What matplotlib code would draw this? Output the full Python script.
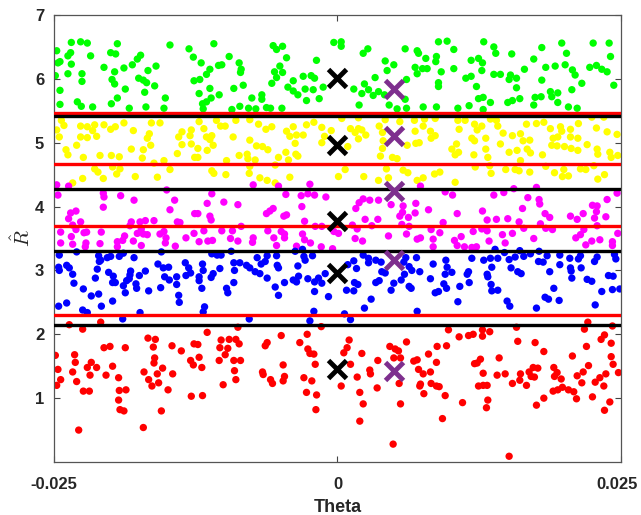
import matplotlib

matplotlib.use("Agg")
import matplotlib.pyplot as plt
import matplotlib.transforms as mtransforms
import numpy as np

# (theta in units of 1e-3, R), one list per cluster
green_pts = [
    (-23.47, 6.57), (-22.65, 6.58), (-22.06, 6.56), (-24.76, 6.44), (-23.53, 6.41),
    (-23.77, 6.36), (-24.47, 6.27), (-24.65, 6.25), (-23.47, 6.23), (-21.77, 6.36),
    (-20.00, 6.41), (-19.56, 6.39), (-19.41, 6.55), (-17.36, 6.37), (-17.65, 6.31),
    (-18.09, 6.22), (-18.83, 6.17), (-20.59, 6.18), (-19.65, 6.11), (-16.00, 6.20),
    (-16.71, 6.13), (-14.77, 6.53), (-13.09, 6.47), (-12.71, 6.34), (-22.53, 6.08),
    (-23.77, 6.08), (-22.53, 5.96), (-24.88, 6.05), (-19.88, 5.99), (-19.65, 5.92),
    (-17.53, 6.01), (-17.12, 5.98), (-16.83, 5.94), (-18.71, 5.84), (-17.00, 5.79),
    (-16.12, 5.89), (-24.47, 5.82), (-19.41, 5.70), (-15.18, 5.70), (-22.94, 5.64),
    (-22.59, 5.57), (-24.47, 5.60), (-19.94, 5.61), (-21.59, 5.56), (-18.36, 5.54),
    (-16.89, 5.56), (-15.30, 5.54), (-12.65, 5.97),
    (-10.90, 6.55), (-5.67, 6.52), (-4.84, 6.51), (-5.37, 6.46), (-9.55, 6.35),
    (-8.67, 6.25), (-10.20, 6.22), (-10.49, 6.21), (-12.02, 6.25), (-11.25, 6.15),
    (-8.49, 6.15), (-8.55, 6.10), (-4.49, 6.33), (-5.08, 6.20), (-5.55, 6.11),
    (-4.84, 6.10), (-5.37, 6.02), (-5.79, 5.93), (-1.85, 6.29), (-3.02, 6.04),
    (-2.32, 6.05), (-2.02, 6.01), (-3.90, 5.97), (-11.55, 6.07), (-12.14, 5.99),
    (-11.25, 5.85), (-9.14, 5.85), (-8.31, 5.90), (-4.37, 5.87), (-3.90, 5.81),
    (-3.49, 5.75), (-2.85, 5.84), (-2.14, 5.83), (-1.61, 5.69), (-2.73, 5.66),
    (-12.20, 5.77), (-10.43, 5.75), (-11.14, 5.70), (-11.55, 5.64), (-11.90, 5.61),
    (-7.55, 5.70), (-6.67, 5.75), (-6.67, 5.68), (-8.61, 5.57), (-7.84, 5.54),
    (-9.31, 5.52), (-7.20, 5.53), (-6.26, 5.55), (-5.90, 5.54), (-4.90, 5.54),
    (-11.84, 5.53), (-1.26, 5.87), (-0.32, 6.57),
    (0.33, 6.58), (0.33, 6.51), (2.68, 6.47), (2.27, 6.40), (8.91, 6.58),
    (9.67, 6.59), (10.26, 6.46), (7.03, 6.44), (7.15, 6.40), (7.79, 6.32),
    (8.73, 6.35), (8.67, 6.27), (5.97, 6.47), (11.79, 6.29), (12.44, 6.32),
    (4.97, 6.22), (4.38, 6.13), (6.85, 6.18), (7.50, 6.16), (7.91, 6.16),
    (7.03, 6.08), (9.15, 6.11), (10.26, 6.16), (3.32, 6.02), (11.32, 6.01),
    (11.79, 6.04), (6.09, 5.99), (8.91, 5.94), (8.91, 5.88), (12.26, 5.88),
    (1.44, 5.84), (2.38, 5.92), (2.74, 5.83), (3.15, 5.74), (3.62, 5.80),
    (4.15, 5.75), (2.15, 5.77), (5.97, 5.68), (4.56, 5.59), (5.26, 5.53),
    (6.09, 5.54), (1.91, 5.59), (7.56, 5.56), (8.73, 5.56), (10.62, 5.54),
    (11.61, 5.58), (12.44, 5.69), (4.21, 6.28),
    (12.90, 6.58), (13.79, 6.50), (13.96, 6.40), (15.37, 6.39), (18.02, 6.49),
    (17.31, 6.31), (19.78, 6.56), (20.20, 6.40), (22.55, 6.56), (23.96, 6.56),
    (24.08, 6.35), (12.79, 6.25), (12.73, 6.13), (13.79, 6.07), (14.37, 6.07),
    (15.26, 6.06), (15.14, 5.99), (15.79, 6.01), (16.49, 6.15), (18.37, 6.18),
    (19.20, 6.20), (20.08, 6.22), (20.72, 6.14), (20.96, 6.06), (22.25, 6.18),
    (22.84, 6.21), (23.31, 6.15), (23.78, 6.11), (18.02, 5.98), (21.55, 5.93),
    (24.37, 5.90), (15.79, 5.86), (20.67, 5.83), (12.85, 5.71), (13.49, 5.63),
    (15.02, 5.63), (15.43, 5.66), (16.08, 5.69), (17.43, 5.71), (17.96, 5.72),
    (18.78, 5.80), (19.43, 5.78), (18.90, 5.72), (19.43, 5.63), (17.31, 5.59),
    (20.37, 5.56), (21.14, 5.54), (12.85, 5.52),
]

yellow_pts = [
    (-24.35, 5.35), (-24.12, 5.27), (-24.76, 5.20), (-24.53, 5.09), (-22.65, 5.26),
    (-22.06, 5.25), (-21.41, 5.28), (-20.59, 5.28), (-19.59, 5.25), (-20.00, 5.21),
    (-18.83, 5.31), (-18.00, 5.19), (-16.41, 5.31), (-15.65, 5.31), (-13.71, 5.17),
    (-12.89, 5.20), (-13.00, 5.11), (-14.00, 5.09), (-13.71, 4.97), (-12.89, 4.98),
    (-16.59, 5.14), (-16.77, 5.07), (-16.47, 4.96), (-17.12, 4.89), (-18.18, 4.90),
    (-22.65, 5.09), (-22.06, 5.08), (-21.24, 5.10), (-21.59, 5.19), (-23.00, 4.96),
    (-23.94, 4.89), (-23.77, 4.81), (-22.41, 4.77), (-20.94, 4.80), (-19.94, 4.80),
    (-19.24, 4.78), (-17.21, 4.76), (-15.30, 4.72), (-16.18, 4.68), (-14.12, 4.83),
    (-12.59, 4.77), (-21.41, 4.59), (-21.12, 4.54), (-20.65, 4.44), (-19.83, 4.62),
    (-19.18, 4.59), (-19.47, 4.51), (-17.83, 4.47), (-15.88, 4.46), (-14.77, 4.58),
    (-22.47, 4.44), (-23.35, 4.37),
    (-12.20, 5.33), (-10.67, 5.35), (-10.31, 5.26), (-9.90, 5.26), (-8.96, 5.35),
    (-7.73, 5.36), (-6.96, 5.29), (-6.31, 5.21), (-5.79, 5.25), (-4.49, 5.18),
    (-3.90, 5.25), (-4.20, 5.10), (-3.61, 5.12), (-3.02, 5.12), (-2.73, 5.28),
    (-2.08, 5.32), (-1.38, 5.24), (-0.55, 5.19), (-1.14, 5.10), (-1.38, 5.00),
    (-3.73, 4.99), (-3.67, 4.82), (-11.78, 5.22), (-11.55, 5.09), (-11.08, 5.11),
    (-10.96, 4.96), (-11.25, 5.05), (-9.20, 5.09), (-7.73, 5.04), (-7.14, 4.95),
    (-6.61, 4.94), (-6.14, 4.89), (-12.31, 4.91), (-11.49, 4.88), (-12.31, 4.77),
    (-8.67, 4.80), (-7.96, 4.82), (-7.90, 4.75), (-7.26, 4.73), (-5.20, 4.77),
    (-4.55, 4.85), (-4.32, 4.73), (-3.49, 4.79), (-9.78, 4.72), (-7.73, 4.63),
    (-5.49, 4.65), (-10.90, 4.52), (-9.84, 4.50), (-11.08, 4.56), (-7.78, 4.52),
    (-6.84, 4.45), (-6.20, 4.41), (-5.49, 4.37), (-4.20, 4.46),
    (0.38, 5.38), (1.85, 5.39), (4.21, 5.36), (5.50, 5.33), (6.79, 5.35),
    (7.68, 5.37), (8.62, 5.38), (10.62, 5.35), (11.26, 5.35), (12.09, 5.29),
    (12.32, 5.20), (1.15, 5.22), (1.85, 5.22), (1.56, 5.16), (2.15, 5.20),
    (2.50, 5.12), (1.85, 5.06), (3.68, 5.26), (3.97, 5.16), (4.03, 5.03),
    (7.56, 5.26), (6.85, 5.18), (8.20, 5.18), (8.62, 5.11), (8.26, 5.07),
    (10.73, 5.21), (11.85, 5.07), (12.09, 5.03), (6.15, 4.96), (6.91, 4.99),
    (7.21, 5.00), (0.91, 4.94), (3.97, 4.91), (3.79, 4.79), (4.85, 4.77),
    (5.26, 4.75), (10.50, 4.98), (10.09, 4.90), (10.38, 4.81), (10.68, 4.85),
    (12.03, 4.81), (0.68, 4.58), (2.32, 4.47), (4.32, 4.59), (5.79, 4.57),
    (6.21, 4.53), (3.62, 4.41), (4.50, 4.45), (7.03, 4.41), (7.56, 4.45),
    (8.56, 4.51), (9.03, 4.54), (10.38, 4.38), (12.15, 4.62), (0.09, 4.47),
    (13.49, 5.37), (14.02, 5.35), (12.73, 5.26), (14.14, 5.26), (14.61, 5.15),
    (15.43, 5.11), (16.67, 5.29), (17.55, 5.30), (18.20, 5.32), (18.78, 5.22),
    (19.67, 5.25), (19.78, 5.18), (20.55, 5.21), (21.25, 5.30), (22.43, 5.40),
    (23.49, 5.40), (22.84, 5.23), (23.78, 5.17), (24.66, 5.13), (13.08, 5.07),
    (14.37, 4.98), (16.14, 5.14), (16.37, 5.03), (16.96, 5.04), (19.02, 5.07),
    (19.43, 5.09), (18.90, 4.96), (19.37, 4.95), (20.02, 4.94), (20.55, 5.09),
    (21.20, 5.07), (22.02, 4.97), (21.20, 4.88), (20.61, 4.91), (16.73, 4.90),
    (17.02, 4.84), (15.84, 4.88), (15.14, 4.85), (13.08, 4.90), (13.26, 4.77),
    (18.08, 4.81), (22.90, 4.90), (22.96, 4.82), (24.02, 4.85), (24.14, 4.77),
    (24.72, 4.80), (16.14, 4.72), (13.43, 4.64), (13.55, 4.52), (14.84, 4.58),
    (15.67, 4.58), (16.02, 4.56), (16.96, 4.54), (18.37, 4.63), (19.14, 4.53),
    (19.84, 4.47), (20.37, 4.48), (19.96, 4.58), (21.43, 4.59), (21.90, 4.58),
    (22.61, 4.64), (22.96, 4.43), (23.55, 4.50),
]

magenta_pts = [
    (-24.76, 4.34), (-23.71, 4.32), (-24.65, 4.18), (-20.65, 4.21), (-20.59, 4.15),
    (-19.12, 4.17), (-17.94, 4.10), (-15.06, 4.26), (-14.36, 4.10), (-20.65, 3.99),
    (-14.77, 3.95), (-12.59, 3.89), (-23.53, 3.90), (-23.06, 3.93), (-23.71, 3.81),
    (-23.35, 3.71), (-22.65, 3.76), (-23.06, 3.64), (-24.41, 3.60), (-23.47, 3.53),
    (-22.35, 3.59), (-22.12, 3.60), (-20.83, 3.60), (-18.77, 3.54), (-18.18, 3.76),
    (-18.30, 3.70), (-17.41, 3.76), (-16.94, 3.78), (-16.18, 3.78), (-17.30, 3.65),
    (-17.65, 3.58), (-17.12, 3.57), (-16.77, 3.56), (-15.30, 3.61), (-15.65, 3.57),
    (-15.12, 3.51), (-14.12, 3.76), (-13.89, 3.75), (-13.36, 3.51), (-12.65, 3.58),
    (-18.94, 3.47), (-18.00, 3.46), (-19.41, 3.45), (-22.18, 3.43), (-24.41, 3.43),
    (-15.18, 3.43), (-20.94, 3.42),
    (-7.43, 4.34), (-5.20, 4.32), (-2.43, 4.35), (-11.08, 4.20), (-4.55, 4.19),
    (-3.20, 4.17), (-2.61, 4.20), (-2.02, 4.18), (-1.02, 4.15), (-11.49, 4.05),
    (-10.02, 4.07), (-8.78, 4.03), (-5.96, 3.93), (-5.67, 3.97), (-6.26, 3.89),
    (-4.49, 3.87), (-4.73, 3.85), (-3.14, 4.00), (-2.90, 3.77), (-11.25, 3.85),
    (-11.14, 3.79), (-12.31, 3.89), (-8.49, 3.69), (-11.78, 3.62), (-10.20, 3.62),
    (-9.26, 3.62), (-6.14, 3.62), (-4.67, 3.57), (-4.96, 3.61), (-1.96, 3.69),
    (-1.38, 3.69), (-3.08, 3.57), (-9.43, 3.50), (-8.78, 3.46), (-7.43, 3.51),
    (-7.49, 3.44), (-11.43, 3.46), (-12.20, 3.45), (-11.02, 3.47), (-5.61, 3.51),
    (-4.67, 3.51), (-2.90, 3.48), (-2.38, 3.43), (-0.32, 3.61),
    (7.32, 4.32), (9.50, 4.23), (10.15, 4.18), (2.27, 4.12), (1.91, 4.06),
    (1.62, 3.97), (2.85, 4.10), (3.62, 4.10), (4.73, 4.03), (5.79, 4.01),
    (6.91, 4.05), (5.74, 3.91), (6.85, 3.90), (8.03, 3.95), (10.56, 3.89),
    (2.44, 3.80), (3.56, 3.80), (5.50, 3.85), (6.26, 3.83), (9.32, 3.75),
    (1.32, 3.71), (1.74, 3.65), (3.03, 3.70), (5.68, 3.72), (6.32, 3.69),
    (8.26, 3.64), (9.03, 3.59), (4.50, 3.54), (6.09, 3.57), (7.03, 3.49),
    (7.32, 3.51), (8.44, 3.49), (10.32, 3.47), (10.91, 3.53), (11.97, 3.61),
    (1.56, 3.50), (2.21, 3.46), (0.09, 3.58),
    (14.67, 4.22), (15.55, 4.28), (17.55, 4.30), (16.79, 4.14), (17.78, 4.11),
    (17.84, 4.04), (16.32, 3.97), (13.79, 4.18), (12.79, 3.93), (22.49, 4.02),
    (22.90, 4.01), (22.84, 3.92), (24.66, 4.21), (23.78, 4.11), (23.67, 3.84),
    (18.31, 3.89), (18.72, 3.83), (20.55, 3.85), (21.14, 3.80), (21.67, 3.89),
    (22.67, 3.82), (22.90, 3.70), (13.20, 3.79), (14.02, 3.80), (15.02, 3.81),
    (16.02, 3.76), (16.43, 3.66), (17.90, 3.73), (18.37, 3.66), (18.96, 3.64),
    (12.73, 3.65), (13.20, 3.62), (14.55, 3.56), (15.43, 3.58), (17.31, 3.50),
    (21.43, 3.56), (21.02, 3.51), (21.73, 3.64), (22.43, 3.46), (23.14, 3.48),
    (24.25, 3.45), (24.72, 3.58), (13.37, 3.46), (14.79, 3.43),
    (-22.24, 3.37), (-19.41, 3.37), (-17.30, 3.39), (-14.30, 3.38), (-23.35, 3.41),
    (-5.37, 3.39), (-3.61, 3.38), (-1.43, 3.37), (-0.43, 3.34),
    (8.44, 3.37), (10.56, 3.39), (11.20, 3.37), (11.85, 3.36), (12.26, 3.37),
    (21.90, 3.40), (24.25, 3.39),
]

blue_pts = [
    (-24.53, 3.24), (-23.00, 3.29), (-21.06, 3.23), (-20.30, 3.20), (-20.00, 3.22),
    (-19.24, 3.22), (-18.88, 3.27), (-17.94, 3.20), (-15.53, 3.29), (-21.00, 3.14),
    (-20.88, 3.16), (-24.59, 3.05), (-24.53, 3.00), (-23.88, 3.08), (-23.65, 3.04),
    (-23.35, 2.94), (-21.18, 3.02), (-21.35, 2.88), (-20.18, 2.97), (-19.77, 2.91),
    (-19.83, 2.81), (-19.59, 2.81), (-18.24, 2.99), (-18.30, 2.93), (-18.36, 2.87),
    (-18.59, 2.84), (-17.47, 2.92), (-16.94, 2.99), (-17.77, 2.79), (-17.71, 2.72),
    (-18.88, 2.76), (-18.71, 2.65), (-15.83, 3.10), (-15.36, 3.04), (-14.89, 3.05),
    (-15.24, 2.90), (-14.83, 2.85), (-14.18, 2.90), (-13.42, 3.12), (-13.12, 3.04),
    (-12.95, 2.96), (-13.36, 2.92), (-14.18, 2.78), (-14.00, 2.61), (-13.95, 2.50),
    (-16.65, 2.68), (-15.59, 2.73), (-23.24, 2.80), (-22.41, 2.71), (-21.71, 2.60),
    (-21.06, 2.63), (-19.83, 2.52), (-20.82, 2.44), (-24.59, 2.44), (-23.88, 2.49),
    (-22.47, 2.38), (-22.06, 2.34), (-17.41, 2.34), (-18.94, 2.24),
    (-11.08, 3.26), (-10.61, 3.24), (-10.26, 3.24), (-9.37, 3.30), (-11.90, 3.10),
    (-11.84, 3.00), (-12.20, 2.90), (-12.20, 2.84), (-11.96, 2.72), (-10.96, 2.95),
    (-11.14, 2.89), (-10.37, 3.03), (-9.14, 3.12), (-8.61, 3.12), (-9.08, 3.00),
    (-8.02, 3.08), (-7.73, 3.04), (-7.26, 2.98), (-7.08, 3.20), (-6.73, 3.10),
    (-6.37, 3.14), (-6.20, 3.23), (-5.37, 3.23), (-6.84, 2.95), (-6.20, 2.88),
    (-5.31, 3.08), (-5.20, 3.04), (-9.14, 2.81), (-9.78, 2.72), (-9.67, 2.65),
    (-5.49, 2.74), (-5.20, 2.61), (-4.67, 2.81), (-3.90, 2.85), (-3.43, 2.91),
    (-3.61, 2.82), (-3.73, 3.30), (-3.08, 3.33), (-2.96, 3.22), (-2.85, 3.16),
    (-2.20, 3.23), (-3.49, 3.07), (-2.61, 2.87), (-2.02, 2.82), (-1.67, 2.88),
    (-1.38, 2.80), (-1.08, 2.95), (-2.02, 2.67), (-0.79, 2.59), (-11.72, 2.43),
    (-11.84, 2.35), (-7.78, 2.24), (-2.08, 2.36), (-2.43, 2.21),
    (2.27, 3.24), (2.74, 3.19), (2.74, 3.12), (1.44, 3.15), (1.68, 3.03),
    (0.91, 3.09), (1.50, 2.81), (1.80, 2.78), (0.80, 2.69), (1.44, 2.68),
    (3.38, 3.16), (3.85, 3.13), (4.21, 2.96), (3.91, 2.98), (3.38, 2.81),
    (3.68, 2.84), (4.73, 2.69), (4.97, 2.80), (5.62, 2.85), (5.91, 2.94),
    (6.32, 3.06), (6.97, 3.20), (6.03, 3.20), (5.85, 3.13), (6.56, 3.00),
    (7.26, 2.98), (6.32, 2.75), (6.50, 2.72), (8.20, 2.87), (8.44, 3.10),
    (9.56, 3.16), (9.67, 3.05), (9.50, 2.94), (10.09, 2.97), (9.38, 2.79),
    (9.62, 2.72), (8.91, 2.67), (8.62, 2.65), (10.79, 2.75), (11.56, 2.98),
    (11.44, 2.94), (11.85, 3.19), (11.62, 2.81), (2.97, 2.55), (2.38, 2.41),
    (10.62, 2.51), (7.03, 2.36), (0.62, 2.32), (1.15, 2.23),
    (12.90, 3.16), (13.49, 3.19), (13.90, 3.33), (14.14, 3.19), (14.73, 3.28),
    (15.14, 3.17), (15.67, 3.21), (16.08, 3.31), (16.43, 3.22), (17.02, 3.26),
    (17.78, 3.30), (18.49, 3.23), (17.73, 3.14), (18.14, 3.13), (19.61, 3.24),
    (20.49, 3.19), (21.25, 3.18), (21.43, 3.23), (22.90, 3.21), (22.67, 3.14),
    (24.43, 3.25), (24.55, 3.18), (13.61, 3.05), (13.20, 2.94), (13.26, 2.90),
    (15.31, 3.04), (15.90, 2.98), (16.20, 2.95), (18.72, 2.98), (19.61, 3.09),
    (20.55, 3.04), (20.61, 2.99), (21.49, 3.04), (20.67, 2.88), (22.02, 2.86),
    (22.43, 2.83), (23.90, 2.92), (24.31, 2.91), (13.55, 2.78), (13.61, 2.68),
    (14.14, 2.69), (19.08, 2.72), (23.31, 2.67), (24.25, 2.70), (24.90, 2.71),
    (18.31, 2.58), (18.61, 2.55), (19.55, 2.53), (14.96, 2.52), (15.20, 2.44),
    (17.55, 2.41), (22.73, 2.46),
]

red_pts = [
    (-20.88, 2.19), (-23.65, 2.15), (-22.47, 2.08), (-16.71, 1.94), (-16.06, 1.92),
    (-14.59, 1.82), (-12.65, 1.85), (-13.77, 1.74), (-20.59, 1.79), (-20.06, 1.81),
    (-18.71, 1.79), (-16.24, 1.80), (-24.88, 1.67), (-23.18, 1.68), (-23.12, 1.56),
    (-24.65, 1.45), (-23.35, 1.41), (-22.06, 1.48), (-21.71, 1.56), (-21.82, 1.36),
    (-21.24, 1.48), (-19.83, 1.50), (-20.41, 1.36), (-19.30, 1.32), (-16.12, 1.63),
    (-16.18, 1.55), (-15.42, 1.47), (-15.89, 1.38), (-17.06, 1.41), (-16.65, 1.29),
    (-16.36, 1.19), (-15.77, 1.24), (-14.53, 1.38), (-12.95, 1.59), (-12.71, 1.52),
    (-24.41, 1.29), (-24.76, 1.20), (-23.00, 1.26), (-22.41, 1.11), (-21.88, 1.11),
    (-19.24, 1.12), (-18.65, 1.13), (-14.94, 1.13), (-19.30, 0.97), (-19.18, 0.82),
    (-18.83, 0.80), (-15.53, 0.80), (-12.89, 1.03), (-22.82, 0.50), (-17.12, 0.54),
    (-8.78, 2.11), (-11.49, 2.03), (-1.43, 2.12), (-4.96, 1.98), (-2.67, 2.00),
    (-10.26, 1.91), (-9.55, 1.92), (-8.96, 1.92), (-8.67, 1.85), (-6.20, 1.87),
    (-6.37, 1.82), (-3.32, 1.87), (-10.37, 1.79), (-9.67, 1.78), (-9.90, 1.68),
    (-2.61, 1.77), (-2.43, 1.70), (-2.08, 1.69), (-12.31, 1.84), (-12.20, 1.64),
    (-11.96, 1.48), (-10.43, 1.59), (-9.14, 1.59), (-8.55, 1.59), (-9.08, 1.43),
    (-6.61, 1.41), (-6.55, 1.37), (-5.90, 1.29), (-5.73, 1.23), (-4.79, 1.52),
    (-4.67, 1.34), (-4.79, 1.27), (-8.96, 1.29), (-10.08, 1.21), (-2.96, 1.32),
    (-2.26, 1.27), (-1.96, 1.53), (-2.73, 1.09), (-1.84, 1.05), (-1.90, 0.82),
    (-11.90, 1.04),
    (9.79, 2.07), (10.73, 1.96), (11.56, 1.98), (11.97, 2.00), (1.03, 1.91),
    (0.85, 1.79), (0.56, 1.71), (2.15, 1.70), (4.62, 1.81), (5.09, 1.77),
    (5.38, 1.74), (4.97, 1.63), (5.56, 1.63), (6.09, 1.88), (8.79, 1.81),
    (9.62, 1.82), (6.73, 1.58), (7.03, 1.60), (8.03, 1.69), (8.73, 1.56),
    (3.56, 1.59), (1.15, 1.53), (2.85, 1.44), (2.91, 1.38), (7.15, 1.45),
    (7.56, 1.38), (8.20, 1.41), (7.32, 1.22), (7.26, 1.19), (8.26, 1.23),
    (8.73, 1.19), (8.97, 1.18), (0.33, 1.19), (1.74, 1.33), (3.50, 1.16),
    (5.44, 1.23), (7.62, 1.07), (9.50, 1.04), (12.32, 1.55), (12.09, 1.54),
    (12.44, 1.19), (1.97, 1.09), (2.27, 0.91), (5.56, 0.91), (11.03, 0.93),
    (1.97, 0.64), (9.26, 0.68), (4.91, 0.28),
    (15.79, 2.11), (22.08, 2.19), (21.78, 2.08), (24.25, 2.13), (12.79, 2.07),
    (13.43, 2.04), (12.79, 1.97), (15.90, 1.89), (17.43, 1.87), (18.20, 1.73),
    (21.96, 1.81), (23.25, 1.92), (23.55, 1.99), (24.14, 1.86), (20.72, 1.66),
    (24.14, 1.65), (24.31, 1.53), (12.61, 1.61), (14.26, 1.63), (12.85, 1.39),
    (14.08, 1.36), (14.79, 1.38), (16.14, 1.38), (16.08, 1.28), (15.43, 1.23),
    (16.67, 1.20), (16.90, 1.41), (17.26, 1.48), (17.67, 1.47), (17.08, 1.34),
    (17.37, 1.33), (19.08, 1.48), (19.37, 1.40), (19.14, 1.34), (19.73, 1.30),
    (21.14, 1.35), (21.67, 1.41), (22.14, 1.51), (21.55, 1.24), (22.73, 1.25),
    (23.14, 1.32), (23.67, 1.38), (23.49, 1.19), (24.78, 1.40), (12.85, 1.20),
    (13.20, 1.20), (19.02, 1.11), (19.43, 1.13), (19.84, 1.17), (20.37, 1.13),
    (20.84, 1.10), (21.08, 0.99), (18.20, 1.00), (17.55, 0.89), (22.49, 1.02),
    (24.02, 0.94), (13.26, 0.97), (13.14, 0.85), (23.55, 0.81), (15.14, 0.09),
]

# cluster boundaries
red_lines = [5.47, 4.67, 3.70, 2.30]
black_lines = [5.42, 4.28, 3.30, 2.14]

# cluster centres
black_x_theta = [0, 0, 0, 0, 0]
black_x_r = [6.02, 4.97, 3.77, 2.96, 1.45]
purple_x_theta = [0.005, 0.005, 0.005, 0.005, 0.005]
purple_x_r = [5.84, 5.10, 4.25, 3.17, 1.42]

clusters = [
    (green_pts, "#00FF00"),
    (yellow_pts, "#FFFF00"),
    (magenta_pts, "#FF00FF"),
    (blue_pts, "#0000FF"),
    (red_pts, "#FF0000"),
]

plt.rcParams["font.family"] = ["Liberation Sans", "DejaVu Sans"]
plt.rcParams["mathtext.fontset"] = "cm"

fig = plt.figure(figsize=(6.41, 5.15), dpi=100)
ax = fig.add_axes([0.0842, 0.1029, 0.8845, 0.8680])

for pts, col in clusters:
    arr = np.array(pts)
    ax.scatter(arr[:, 0] * 1e-3, arr[:, 1], s=28, color=col, edgecolors="none",
               zorder=2)

for r in red_lines:
    ax.axhline(r, color="#FF0000", lw=2.4, zorder=3)
for r in black_lines:
    ax.axhline(r, color="black", lw=2.4, zorder=3)

ax.plot(black_x_theta, black_x_r, ls="none", marker="x", ms=13, mew=3.5,
        color="black", zorder=4)
ax.plot(purple_x_theta, purple_x_r, ls="none", marker="x", ms=13, mew=3.5,
        color="#7E2F8E", zorder=4)

ax.set_xlim(-0.025, 0.025)
ax.set_ylim(0, 7)
ax.set_xticks([-0.025, 0, 0.025])
ax.set_xticklabels(["-0.025", "0", "0.025"])
ax.set_yticks([1, 2, 3, 4, 5, 6, 7])
ax.tick_params(direction="in", top=True, right=True, length=4, width=0.8,
               colors="#444444", labelcolor="#262626", labelsize=12)
ax.tick_params(axis="x", pad=11)
ax.tick_params(axis="y", pad=7)
for lbl in ax.get_xticklabels() + ax.get_yticklabels():
    lbl.set_fontweight("bold")
# nudge the right-most x label so it stays inside the figure
last = ax.get_xticklabels()[-1]
last.set_transform(last.get_transform()
                   + mtransforms.ScaledTranslation(-3 / 72, 0, fig.dpi_scale_trans))
for sp in ax.spines.values():
    sp.set_color("#555555")
    sp.set_linewidth(0.9)

ax.set_xlabel("Theta", fontsize=13, fontweight="bold", color="#262626", labelpad=5)
ax.set_ylabel(r"$\hat{R}$", fontsize=15, color="#262626", labelpad=1)

fig.savefig("out.png", dpi=100)
